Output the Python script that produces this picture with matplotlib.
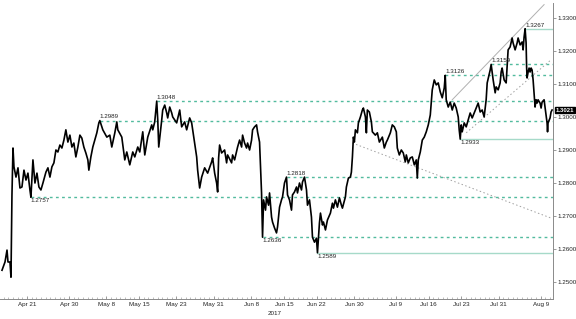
import matplotlib
matplotlib.use('Agg')
import matplotlib.pyplot as plt
import matplotlib.dates as mdates
import pandas as pd

base = pd.Timestamp('2017-04-15')

# GBPUSD, days after Apr 15 2017 and price
days = [0.66, 1.30, 1.73, 1.94, 2.37, 2.58, 2.79, 3.01, 3.22, 3.65, 4.08, 4.50, 4.93, 5.36, 5.79,
        6.21, 6.64, 6.85, 7.28, 7.71, 8.14, 8.56, 8.99, 9.42, 10.06, 10.49, 10.92, 11.34, 11.77,
        12.20, 12.62, 13.05, 13.48, 13.91, 14.33, 14.76, 15.19, 15.62, 16.04, 16.47, 16.90, 17.33,
        17.75, 18.18, 18.61, 19.04, 19.25, 19.68, 20.10, 20.53, 20.96, 21.39, 21.60,
        22.24, 23.10, 23.74, 24.16, 24.81, 25.23, 25.45, 26.30, 26.94, 27.37, 28.01, 28.65, 29.08,
        29.72, 30.15, 30.79, 31.22, 31.86, 32.71, 32.93, 33.35, 33.78, 34.00, 34.21, 34.85, 35.06,
        35.49, 35.92, 36.13, 36.56, 36.99, 37.20, 38.05, 38.70, 39.12, 39.76, 40.19, 40.83, 41.26,
        41.90, 42.33, 42.54, 42.97, 43.40, 44.04, 44.68,
        45.53, 45.75, 46.18, 46.60, 46.82, 47.03, 47.24, 47.67, 48.31, 48.74, 48.95, 49.81, 50.02,
        50.45, 51.09, 51.52, 51.95, 52.16, 52.59, 53.01, 53.23, 53.66, 54.08, 54.30, 54.72, 55.15,
        55.36, 55.79, 56.00, 56.22, 56.43, 56.65, 57.07, 57.29, 57.72, 57.93, 58.36, 58.57, 59.00,
        59.42, 59.64, 60.07, 60.49, 60.71, 61.13, 61.56, 61.78, 62.20, 62.63, 62.84, 63.27, 63.70,
        63.91, 64.34, 64.77, 64.98, 65.41, 65.84, 66.05, 66.48, 66.90, 67.12, 67.55, 67.97, 68.19,
        68.61, 68.83, 69.26, 69.47, 69.90, 70.32, 70.96, 71.39, 71.61, 72.03, 72.46, 72.89, 73.31,
        73.53, 74.17, 74.38, 74.81, 75.24, 75.45, 75.67, 75.88, 76.09, 76.31, 76.74, 76.95, 77.38,
        77.80, 78.02, 78.45, 78.66, 78.87, 79.30, 79.73, 79.94, 80.58, 81.01, 81.44, 82.08, 82.50,
        82.93, 83.15, 83.79, 84.21, 84.64, 85.07, 85.28, 85.71, 86.14, 86.56, 86.99, 87.21, 87.63,
        88.06, 88.49, 88.92, 89.34, 89.56, 89.77, 90.20, 90.63, 91.05, 91.48, 91.91, 92.34, 92.55,
        92.76, 93.19, 93.62, 94.04, 94.47, 94.90, 95.33, 95.54, 95.75, 96.18, 96.61, 97.04, 97.46,
        97.89, 98.32, 98.53, 98.75, 98.96, 99.17, 99.60, 100.03, 100.46, 100.88, 101.31, 101.74,
        102.16, 102.59, 103.02, 103.45, 103.87, 104.30, 104.52, 105.16, 105.37, 105.80, 106.23,
        106.44, 106.87, 107.29, 107.51, 107.72, 108.15, 108.58, 108.79, 109.00, 109.43, 109.86,
        110.07, 110.50, 110.93, 111.14, 111.57, 112.00, 112.21, 112.42, 112.64, 112.85, 112.96,
        113.06, 113.28, 113.49, 113.70, 113.92, 114.13, 114.35, 114.56, 114.77, 114.99, 115.20,
        115.41, 115.84, 116.06, 116.27, 116.70, 116.91, 117.12, 117.34, 117.44, 117.55, 117.98,
        118.19, 118.41]
prices = [1.2536, 1.2561, 1.2597, 1.2561, 1.2561, 1.2515, 1.2764, 1.2906, 1.2849, 1.2818, 1.2846,
          1.2785, 1.2788, 1.2839, 1.2809, 1.2830, 1.2779, 1.2757, 1.2870, 1.2800, 1.2830, 1.2788,
          1.2779, 1.2800, 1.2833, 1.2846, 1.2818, 1.2849, 1.2861, 1.2900, 1.2894, 1.2915, 1.2906,
          1.2930, 1.2961, 1.2924, 1.2945, 1.2909, 1.2921, 1.2879, 1.2909, 1.2945, 1.2936, 1.2909,
          1.2891, 1.2870, 1.2839, 1.2879, 1.2909, 1.2930, 1.2952, 1.2982, 1.2989,
          1.2961, 1.2939, 1.2945, 1.2909, 1.2952, 1.2985, 1.2961, 1.2939, 1.2870, 1.2894, 1.2855,
          1.2894, 1.2879, 1.2909, 1.2894, 1.2955, 1.2885, 1.2939, 1.2976, 1.2961, 1.2985, 1.3048,
          1.2991, 1.2909, 1.2991, 1.3021, 1.3036, 1.3012, 1.2997, 1.3030, 1.3012, 1.3000, 1.2982,
          1.3021, 1.2970, 1.2985, 1.2961, 1.2997, 1.2982, 1.2921, 1.2879, 1.2839, 1.2785, 1.2818,
          1.2846, 1.2830,
          1.2864, 1.2876, 1.2830, 1.2800, 1.2773, 1.2876, 1.2915, 1.2891, 1.2900, 1.2861, 1.2885,
          1.2861, 1.2885, 1.2870, 1.2909, 1.2930, 1.2909, 1.2945, 1.2921, 1.2906, 1.2921, 1.2900,
          1.2930, 1.2961, 1.2970, 1.2976, 1.2955, 1.2924, 1.2849, 1.2770, 1.2636, 1.2749, 1.2718,
          1.2758, 1.2733, 1.2770, 1.2697, 1.2682, 1.2664, 1.2649, 1.2667, 1.2727, 1.2749, 1.2758,
          1.2800, 1.2818, 1.2764, 1.2749, 1.2718, 1.2764, 1.2773, 1.2788, 1.2770, 1.2800, 1.2779,
          1.2803, 1.2818, 1.2779, 1.2733, 1.2749, 1.2697, 1.2636, 1.2621, 1.2633, 1.2589, 1.2679,
          1.2709, 1.2673, 1.2682, 1.2658, 1.2688, 1.2709, 1.2739, 1.2724, 1.2749, 1.2727, 1.2755,
          1.2733, 1.2724, 1.2758, 1.2788, 1.2815, 1.2818, 1.2833, 1.2879, 1.2939, 1.2924, 1.2961,
          1.2952, 1.2982, 1.3000, 1.3021, 1.3027, 1.3000, 1.2952, 1.3021, 1.3015, 1.2985, 1.2955,
          1.2945, 1.2952, 1.2924, 1.2939, 1.2906, 1.2924, 1.2930, 1.2952, 1.2976, 1.2970, 1.2955,
          1.2906, 1.2885, 1.2900, 1.2891, 1.2864, 1.2885, 1.2861, 1.2876, 1.2879, 1.2855, 1.2870,
          1.2815, 1.2870, 1.2894, 1.2930, 1.2939, 1.2955, 1.2976, 1.3006, 1.3042, 1.3082, 1.3112,
          1.3097, 1.3103, 1.3076, 1.3058, 1.3088, 1.3126, 1.3052, 1.3030, 1.3045, 1.3021, 1.3042,
          1.3027, 1.3000, 1.2961, 1.2933, 1.2976, 1.2955, 1.2982, 1.2970, 1.2991, 1.3012, 1.2997,
          1.3012, 1.3027, 1.3042, 1.3015, 1.3021, 1.3000, 1.3052, 1.3103, 1.3142, 1.3159, 1.3112,
          1.3073, 1.3091, 1.3082, 1.3103, 1.3136, 1.3148, 1.3112, 1.3103, 1.3151, 1.3203, 1.3212,
          1.3239, 1.3224, 1.3203, 1.3224, 1.3239, 1.3218, 1.3227, 1.3203, 1.3242, 1.3267, 1.3224,
          1.3151, 1.3118, 1.3136, 1.3148, 1.3136, 1.3148, 1.3142, 1.3112, 1.3073, 1.3030, 1.3052,
          1.3042, 1.3052, 1.3042, 1.3027, 1.3045, 1.3052, 1.3030, 1.3006, 1.2982, 1.2955, 1.2982,
          1.2997, 1.3015, 1.3021]

# marked highs / lows: level, day it starts, label above?
dash_levels = [1.3048, 1.2989, 1.2757, 1.2636, 1.2818, 1.3126, 1.3159]
dash_start = [33.78, 21.60, 6.85, 56.43, 61.56, 95.54, 105.37]
dash_above = [True, True, False, False, True, True, True]
solid_levels = [1.2589, 1.2933, 1.3267]
solid_start = [68.19, 98.75, 112.64]
solid_above = [False, False, True]

# trend lines: (day, price) end points
channel_top = [(97.04, 1.3052), (116.70, 1.3340)]
channel_low = [(100.03, 1.2952), (118.19, 1.3173)]
down_trend = [(75.67, 1.2921), (118.19, 1.2694)]

last_price = 1.3021

tick_dates = ['2017-04-21', '2017-04-30', '2017-05-08', '2017-05-15', '2017-05-23', '2017-05-31',
              '2017-06-08', '2017-06-15', '2017-06-22', '2017-06-30', '2017-07-09', '2017-07-16',
              '2017-07-23', '2017-07-31', '2017-08-09']
tick_labels = ['Apr 21', 'Apr 30', 'May 8', 'May 15', 'May 23', 'May 31', 'Jun 8', 'Jun 15',
               'Jun 22', 'Jun 30', 'Jul 9', 'Jul 16', 'Jul 23', 'Jul 31', 'Aug 9']
y_ticks = [1.25, 1.26, 1.27, 1.28, 1.29, 1.30, 1.31, 1.32, 1.33]

plt.rcParams['font.family'] = ['Liberation Sans', 'DejaVu Sans']
FS = 4.5


def to_time(d):
    return base + pd.Timedelta(days=d)


times = [to_time(d) for d in days]
x_right = to_time(118.6)

fig = plt.figure(figsize=(5.76, 3.19), dpi=100)
ax = fig.add_axes([0.0, 0.0627, 0.96, 0.928])

dash_col = '#52bb9e'
solid_col = '#a6dac9'
for lvl, st, up in zip(dash_levels, dash_start, dash_above):
    ax.plot([to_time(st), x_right], [lvl, lvl], color=dash_col, lw=1.0,
            dashes=(2.0, 2.4), zorder=1)
    ax.annotate(f'{lvl:.4f}', (to_time(st), lvl), xytext=(0, 0.8 if up else -0.8),
                textcoords='offset points', ha='left', va='bottom' if up else 'top',
                fontsize=FS, color='#222222', zorder=4)
for lvl, st, up in zip(solid_levels, solid_start, solid_above):
    ax.plot([to_time(st), x_right], [lvl, lvl], color=solid_col, lw=1.0, zorder=1)
    ax.annotate(f'{lvl:.4f}', (to_time(st), lvl), xytext=(0, 0.8 if up else -0.8),
                textcoords='offset points', ha='left', va='bottom' if up else 'top',
                fontsize=FS, color='#222222', zorder=4)

ax.plot([to_time(p[0]) for p in channel_top], [p[1] for p in channel_top],
        color='#b0b0b0', lw=0.7, zorder=2)
ax.plot([to_time(p[0]) for p in channel_low], [p[1] for p in channel_low],
        color='#a0a0a0', lw=0.7, ls=(0, (1.5, 2.5)), zorder=2)
ax.plot([to_time(p[0]) for p in down_trend], [p[1] for p in down_trend],
        color='#a0a0a0', lw=0.7, ls=(0, (1.5, 2.5)), zorder=2)

ax.plot(times, prices, color='black', lw=1.2, zorder=3)

ax.set_xlim(to_time(0.23), x_right)
ax.set_ylim(1.2449, 1.3345)

for s in ['top', 'left']:
    ax.spines[s].set_visible(False)
for s in ['bottom', 'right']:
    ax.spines[s].set_color('#8a8a8a')
    ax.spines[s].set_linewidth(0.7)

ax.yaxis.tick_right()
ax.set_yticks(y_ticks)
ax.set_yticklabels([f'{v:.4f}' for v in y_ticks])
ax.tick_params(axis='y', direction='out', length=2, width=0.6, color='#8a8a8a',
               labelsize=FS, labelcolor='#222222', pad=1.5)

ax.set_xticks([pd.Timestamp(d) for d in tick_dates])
ax.set_xticklabels(tick_labels)
ax.xaxis.set_minor_locator(mdates.DayLocator())
ax.tick_params(axis='x', which='major', direction='in', length=2.5, width=0.6, color='#8a8a8a',
               labelsize=FS, labelcolor='#222222', pad=2)
ax.tick_params(axis='x', which='minor', direction='in', length=1.2, width=0.4, color='#8a8a8a')

# year under the date labels
ax.annotate('2017', xy=(to_time(59.0), 0), xycoords=('data', 'axes fraction'),
            xytext=(0, -8.5), textcoords='offset points', ha='center', va='top',
            fontsize=FS, color='#222222', annotation_clip=False)

# last price tag on the axis
ax.annotate(f'{last_price:.4f}', xy=(1, last_price), xycoords=('axes fraction', 'data'),
            xytext=(1.8, 0), textcoords='offset points', ha='left', va='center',
            fontsize=4.3, color='white', fontweight='bold',
            bbox=dict(boxstyle='square,pad=0.1', fc='black', ec='black'), zorder=6,
            annotation_clip=False)

fig.savefig('out.png', dpi=100, facecolor='white')
